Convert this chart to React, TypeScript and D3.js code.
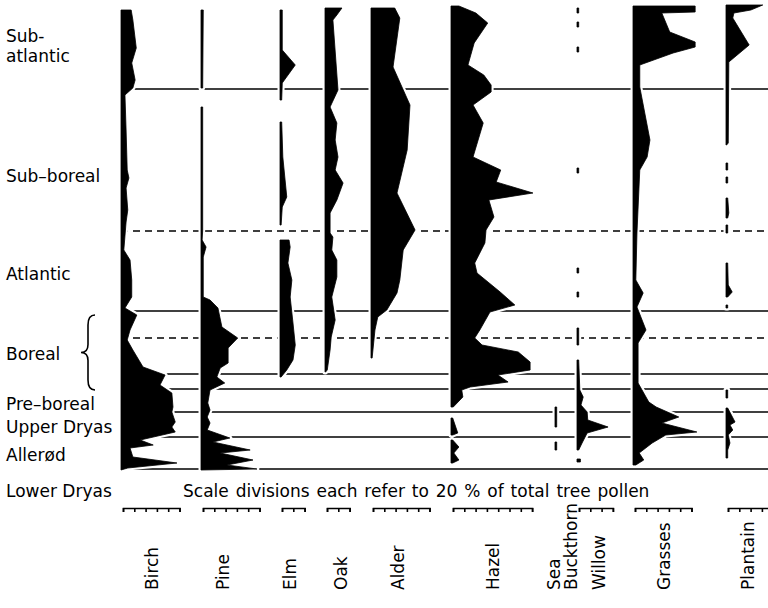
import { useEffect, useRef } from "react";
import * as d3 from "d3";

// [depth (cm below top), percent of total tree pollen]; null = gap in the record
type Pt = [number, number] | null;

const TAXA = ["Birch", "Pine", "Elm", "Oak", "Alder", "Hazel", "Sea Buckthorn", "Willow", "Grasses", "Plantain"];

const BIRCH: Pt[] = [
  [5, 18], [15, 21], [43, 27], [58, 19], [75, 25], [83, 21], [90, 7], [125, 9], [165, 11], [173, 14],
  [183, 9], [205, 12], [217, 9], [245, 5], [255, 16], [275, 19], [292, 19], [303, 7], [310, 28],
  [325, 16], [335, 11], [345, 21], [362, 39], [370, 78], [380, 69], [388, 90], [402, 92], [407, 90],
  [417, 96], [422, 90], [427, 96], [435, 34], [440, 57], [443, 16], [452, 21], [458, 99], [463, 12], [465, 0],
];

const PINE: Pt[] = [
  [5, 4], [83, 3], null, [102, 3], [225, 3], [235, 2], [242, 9], [252, 4], [292, 4], [295, 16],
  [303, 30], [322, 37], [333, 65], [343, 48], [358, 48], [363, 34], [372, 28], [378, 42], [385, 16],
  [398, 12], [405, 16], [412, 11], [418, 16], [425, 11], [433, 51], [437, 21], [445, 87], [448, 34],
  [455, 92], [460, 46], [464, 99], [465, 0],
];

const ELM: Pt[] = [
  [5, 4], [45, 4], [60, 27], [78, 4], [95, 3], null, [117, 3], [152, 5], [175, 9], [192, 12],
  [202, 4], [220, 2], null, [235, 16], [242, 18], [258, 14], [275, 21], [292, 18], [318, 23],
  [340, 27], [355, 23], [365, 12], [372, 2],
];

const OAK: Pt[] = [
  [3, 30], [10, 21], [15, 14], [85, 23], [102, 9], [118, 21], [135, 18], [152, 23], [165, 18],
  [178, 32], [195, 21], [208, 9], [228, 9], [232, 14], [245, 12], [255, 21], [272, 21], [292, 12],
  [315, 18], [332, 11], [345, 9], [365, 4], [367, 1],
];

const ALDER: Pt[] = [
  [3, 42], [13, 51], [62, 39], [100, 69], [145, 64], [188, 46], [225, 78], [245, 57], [275, 51],
  [288, 46], [305, 28], [312, 12], [325, 7], [353, 2],
];

const HAZEL: Pt[] = [
  [1, 14], [8, 44], [18, 65], [38, 41], [60, 30], [70, 58], [80, 71], [87, 71], [100, 39], [118, 57],
  [152, 39], [165, 88], [177, 80], [188, 145], [195, 67], [212, 76], [225, 62], [238, 60], [258, 42],
  [268, 46], [287, 87], [300, 113], [307, 69], [325, 51], [333, 42], [340, 55], [347, 119], [357, 140],
  [365, 140], [370, 83], [377, 101], [382, 34], [385, 19], [392, 21], [402, 4], null,
  [413, 3], [428, 12], [430, 3], null, [435, 3], [442, 14], [448, 5], [455, 14], [458, 3],
];

const SEA_BUCKTHORN: Pt[] = [[402, 3], [422, 3], null, [437, 3], [445, 3]];

const WILLOW: Pt[] = [
  [3, 3], [8, 3], null, [17, 3], [22, 3], null, [42, 3], [47, 3], null, [163, 3], [168, 3], null,
  [263, 3], [268, 3], null, [287, 3], [292, 3], null, [323, 3], [340, 3], null,
  [355, 3], [385, 5], [392, 11], [400, 7], [407, 18], [415, 19], [422, 55], [428, 18], [438, 9], [445, 3],
  null, [454, 6], [457, 6],
];

const GRASSES: Pt[] = [
  [1, 110], [7, 110], [8, 51], [27, 65], [37, 110], [42, 110], [48, 71], [60, 12], [82, 12], [135, 30],
  [152, 25], [165, 12], [228, 7], [275, 5], [288, 18], [302, 7], [325, 23], [338, 9], [378, 9],
  [397, 28], [402, 41], [412, 81], [418, 51], [427, 113], [430, 58], [438, 34], [448, 11], [455, 19], [460, 5],
];

const PLANTAIN: Pt[] = [
  [0, 65], [5, 44], [8, 14], [13, 12], [40, 41], [57, 5], [138, 4], [140, 1], null,
  [158, 3], [165, 3], null, [172, 3], [178, 3], null, [193, 3], [208, 5], [213, 3], null,
  [220, 3], [228, 3], null, [258, 3], [280, 4], [287, 11], [292, 3], null, [300, 3], [303, 3], null,
  [385, 3], [393, 3], null, [403, 3], [417, 16], [420, 7], [425, 12], [430, 4], [438, 7], [445, 3], [453, 3],
];

const SERIES = [BIRCH, PINE, ELM, OAK, ALDER, HAZEL, SEA_BUCKTHORN, WILLOW, GRASSES, PLANTAIN];

// number of 20 % divisions on each column's scale bar
const SCALE_DIVS = [5, 5, 2, 2, 5, 7, 0, 3, 5, 4];

// zone boundaries (depth) and whether they are drawn dashed
const BOUNDARIES = [84, 226, 306, 333, 369, 384, 407, 432, 464];
const BOUNDARY_DASHED = [false, true, false, true, false, false, false, false, false];

const ZONE_NAMES = [["Sub-", "atlantic"], ["Sub–boreal"], ["Atlantic"], ["Boreal"], ["Pre–boreal"], ["Upper Dryas"], ["Allerød"], ["Lower Dryas"]];

// layout
const W = 768;
const H = 608;
const COL_X = [121, 201, 280, 325, 371, 451, 555, 577, 633, 726];
const LABEL_X = [152, 223, 290, 341, 398, 493, 554, 599, 664, 748];
const ZONE_Y = [[42, 62], [182], [280], [360], [410], [433], [461], [497]];
const PX_PER_100 = 56.5;
const FONT = "'DejaVu Sans', Verdana, sans-serif";

export default function App() {
  const svgRef = useRef<SVGSVGElement>(null);

  useEffect(() => {
    const svg = d3.select(svgRef.current);
    svg.selectAll("*").remove();

    const y = d3.scaleLinear().domain([0, 465]).range([5, 470]);

    // zone lines first, the curves cut them with a white halo
    svg.append("g")
      .selectAll("line")
      .data(BOUNDARIES)
      .join("line")
      .attr("x1", COL_X[0])
      .attr("x2", W)
      .attr("y1", (d) => y(d))
      .attr("y2", (d) => y(d))
      .attr("stroke", "#000")
      .attr("stroke-width", 1.6)
      .attr("stroke-dasharray", (_, i) => (BOUNDARY_DASHED[i] ? "7 5" : null));

    TAXA.forEach((name, i) => {
      const x = d3.scaleLinear().domain([0, 100]).range([COL_X[i], COL_X[i] + PX_PER_100]);
      const area = d3
        .area<Pt>()
        .defined((d) => d != null)
        .x0(COL_X[i])
        .x1((d) => x(d![1]))
        .y((d) => y(d![0]));
      const g = svg.append("g").attr("class", "taxon").attr("data-name", name);
      g.append("path")
        .attr("d", area(SERIES[i]))
        .attr("fill", "#fff")
        .attr("stroke", "#fff")
        .attr("stroke-width", 5)
        .attr("stroke-linejoin", "round");
      g.append("path")
        .attr("d", area(SERIES[i]))
        .attr("fill", "#000")
        .attr("stroke", "#000")
        .attr("stroke-width", 0.8)
        .attr("stroke-linejoin", "round");

      const divs = SCALE_DIVS[i];
      if (divs > 0) {
        const bar = d3.scaleLinear().domain([0, divs * 20]).range([COL_X[i] + 2, x(divs * 20) + 2]);
        const ax = svg.append("g")
          .attr("transform", "translate(0,508)")
          .call(d3.axisBottom(bar).tickValues(d3.range(0, divs * 20 + 1, 20)).tickSize(4).tickFormat(() => ""));
        ax.selectAll("path,line").attr("stroke", "#000").attr("stroke-width", 1.6);
        ax.selectAll("text").remove();
      }
    });

    // zone names on the left
    const zl = svg.append("g").attr("font-family", FONT).attr("font-size", 17).attr("fill", "#000");
    ZONE_NAMES.forEach((lines, i) => {
      lines.forEach((t, j) => {
        zl.append("text").attr("x", 6).attr("y", ZONE_Y[i][j]).text(t);
      });
    });

    // brace around Boreal
    const bt = y(310);
    const bb = y(385);
    const bm = (bt + bb) / 2;
    svg.append("path")
      .attr("d", `M95,${bt} Q88,${bt} 88,${bt + 10} L88,${bm - 8} Q88,${bm} 81,${bm} Q88,${bm} 88,${bm + 8} L88,${bb - 10} Q88,${bb} 95,${bb}`)
      .attr("fill", "none")
      .attr("stroke", "#000")
      .attr("stroke-width", 1.6);

    svg.append("text")
      .attr("x", 183)
      .attr("y", 497)
      .attr("font-family", FONT)
      .attr("font-size", 17)
      .attr("word-spacing", 1.5)
      .text("Scale divisions each refer to 20 % of total tree pollen");

    // rotated column names
    const cl = svg.append("g").attr("font-family", FONT).attr("font-size", 17);
    TAXA.forEach((name, i) => {
      const parts = name === "Sea Buckthorn" ? ["Sea", "Buckthorn"] : [name];
      parts.forEach((p, j) => {
        cl.append("text")
          .attr("transform", `translate(${LABEL_X[i] + 6 + j * 17},590) rotate(-90)`)
          .text(p);
      });
    });
  }, []);

  return (
    <svg
      ref={svgRef}
      width={W}
      height={H}
      style={{ position: "absolute", left: 0, top: 0, background: "#fff" }}
    />
  );
}
